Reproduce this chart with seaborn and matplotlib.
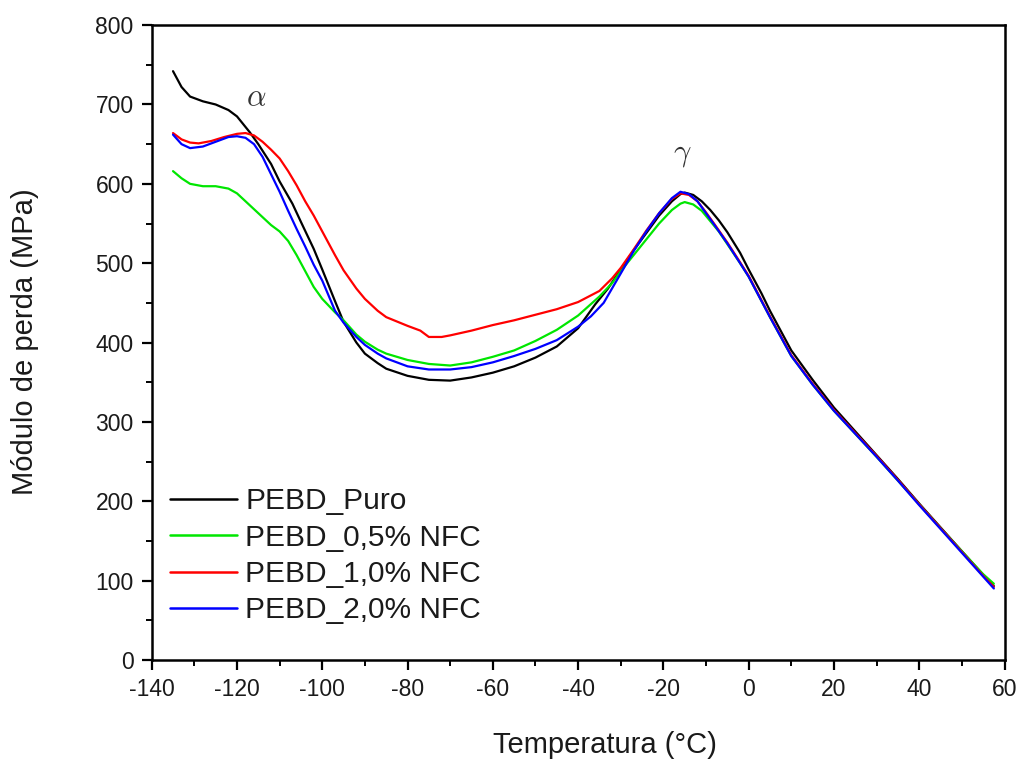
import numpy as np
import pandas as pd
import matplotlib
matplotlib.use("Agg")
import matplotlib.pyplot as plt
from matplotlib.ticker import MultipleLocator
import seaborn as sns

# ---------------- data ----------------
puro_T = [-135, -133, -131, -128, -125, -122, -120, -117, -115, -112, -110, -107, -105, -102, -100,
          -97, -95, -92, -90, -87, -85, -80, -75, -70, -65, -60, -55, -50, -45, -40, -36, -33, -30,
          -27, -24, -21, -18, -16, -15, -13, -11, -9, -7, -5, -2, 0, 3, 5, 7, 10, 15, 20, 25, 30, 35,
          40, 45, 50, 55, 57.5]
puro_E = [742, 722, 710, 704, 700, 693, 685, 665, 650, 625, 603, 575, 552, 518, 492,
          452, 426, 400, 386, 374, 367, 358, 353, 352, 356, 362, 370, 381, 395, 418, 448, 468, 492,
          516, 538, 560, 578, 587, 589, 586, 578, 567, 554, 539, 513, 492, 462, 440, 420, 390, 353,
          318, 288, 258, 228, 197, 167, 137, 107, 93]

nfc05_T = [-135, -133, -131, -128, -125, -122, -120, -118, -116, -114, -112, -110, -108, -106, -104,
           -102, -100, -97, -95, -92, -90, -87, -85, -80, -75, -70, -65, -60, -55, -50, -45, -40, -35,
           -32, -30, -27, -24, -21, -18, -16, -15, -13, -11, -9, -7, -5, -2, 0, 5, 10, 15, 20, 25, 30,
           35, 40, 45, 50, 55, 57.5]
nfc05_E = [616, 607, 600, 597, 597, 594, 588, 578, 568, 558, 548, 540, 528, 510, 490,
           470, 455, 438, 428, 410, 401, 391, 386, 378, 373, 371, 375, 382, 390, 402, 416, 434, 458,
           475, 490, 510, 530, 550, 567, 575, 577, 574, 566, 553, 540, 524, 500, 483, 432, 383, 347,
           314, 285, 256, 226, 196, 166, 137, 108, 96]

nfc10_T = [-135, -133, -131, -129, -126, -123, -120, -118, -116, -114, -112, -110, -108, -106, -104,
           -102, -100, -97, -95, -92, -90, -87, -85, -80, -77, -75, -72, -70, -65, -60, -55, -50, -45,
           -40, -35, -32, -30, -27, -24, -21, -18, -16, -14, -12, -10, -8, -5, -2, 0, 5, 10, 15, 20,
           25, 30, 35, 40, 45, 50, 55, 57.5]
nfc10_E = [664, 656, 652, 651, 654, 659, 663, 664, 661, 653, 643, 632, 616, 598, 578,
           560, 540, 510, 491, 468, 455, 440, 432, 421, 415, 407, 407, 409, 415, 422, 428, 435, 442,
           451, 465, 481, 494, 517, 541, 563, 581, 588, 586, 578, 564, 549, 526, 501, 484, 433, 384,
           348, 315, 286, 257, 227, 196, 166, 136, 106, 92]

nfc20_T = [-135, -133, -131, -128, -125, -122, -120, -118, -116, -114, -112, -110, -108, -106, -104,
           -102, -100, -97, -95, -92, -90, -87, -85, -80, -75, -70, -65, -60, -55, -50, -45, -40, -37,
           -34, -30, -27, -24, -21, -18, -16, -14, -12, -10, -8, -5, -2, 0, 5, 10, 15, 20, 25, 30, 35,
           40, 45, 50, 55, 57.5]
nfc20_E = [662, 650, 645, 647, 653, 659, 660, 658, 650, 634, 612, 590, 566, 543, 521,
           498, 478, 440, 425, 407, 397, 386, 380, 370, 366, 366, 369, 375, 383, 392, 403, 420, 433,
           450, 487, 515, 540, 563, 582, 590, 587, 578, 563, 548, 525, 500, 483, 432, 383, 347, 314,
           285, 256, 226, 195, 165, 135, 105, 90]

series_names = ["PEBD_Puro", "PEBD_0,5% NFC", "PEBD_1,0% NFC", "PEBD_2,0% NFC"]
series_colors = ["#000000", "#00E600", "#FF0000", "#0000FF"]

x_ticks = [-140, -120, -100, -80, -60, -40, -20, 0, 20, 40, 60]
y_ticks = [0, 100, 200, 300, 400, 500, 600, 700, 800]

# ---------------- build table ----------------
frames = []
for name, T, E in zip(series_names,
                      [puro_T, nfc05_T, nfc10_T, nfc20_T],
                      [puro_E, nfc05_E, nfc10_E, nfc20_E]):
    frames.append(pd.DataFrame({"T": T, "E": E, "serie": name}))
df = pd.concat(frames, ignore_index=True)

# ---------------- plot ----------------
sns.set_theme(style="white")
plt.rcParams["font.family"] = ["Liberation Sans", "DejaVu Sans"]
plt.rcParams["mathtext.fontset"] = "cm"
plt.rcParams["axes.unicode_minus"] = False

fig = plt.figure(figsize=(10.25, 7.62), dpi=100)
ax = fig.add_axes([0.148, 0.134, 0.832, 0.833])

sns.lineplot(data=df, x="T", y="E", hue="serie", hue_order=series_names,
             palette=dict(zip(series_names, series_colors)),
             estimator=None, sort=False, linewidth=1.6, ax=ax)

ax.set_xlim(-140, 60)
ax.set_ylim(0, 800)
ax.set_xticks(x_ticks)
ax.set_yticks(y_ticks)
ax.xaxis.set_minor_locator(MultipleLocator(10))
ax.yaxis.set_minor_locator(MultipleLocator(50))
ax.tick_params(which="major", direction="out", length=7, width=1.6, labelsize=16.5, pad=6,
               color="black", labelcolor="#1a1a1a", bottom=True, left=True, top=False, right=False)
ax.tick_params(which="minor", direction="out", length=4, width=1.4,
               color="black", bottom=True, left=True, top=False, right=False)
for sp in ax.spines.values():
    sp.set_color("black")
    sp.set_linewidth(1.8)

ax.set_xlabel("Temperatura (°C)", fontsize=21, color="#1a1a1a")
ax.set_ylabel("Módulo de perda (MPa)", fontsize=21, color="#1a1a1a")
ax.xaxis.label.set_va("center")
ax.yaxis.label.set_va("center")
ax.xaxis.set_label_coords(0.532, -0.134)
ax.yaxis.set_label_coords(-0.149, 0.502)

ax.text(-115.5, 708, r"$\alpha$", fontsize=22, color="#333333", ha="center", va="center")
ax.text(-15.5, 638, r"$\gamma$", fontsize=22, color="#333333", ha="center", va="center")

leg = ax.legend(loc="upper left", bbox_to_anchor=(0.0, 0.30), frameon=False,
                fontsize=21.5, handlelength=2.25, handletextpad=0.28, labelspacing=0.28,
                borderaxespad=0.2)
for t in leg.get_texts():
    t.set_color("#1a1a1a")
for line in leg.get_lines():
    line.set_linewidth(1.8)

fig.savefig("out.png", dpi=100)
